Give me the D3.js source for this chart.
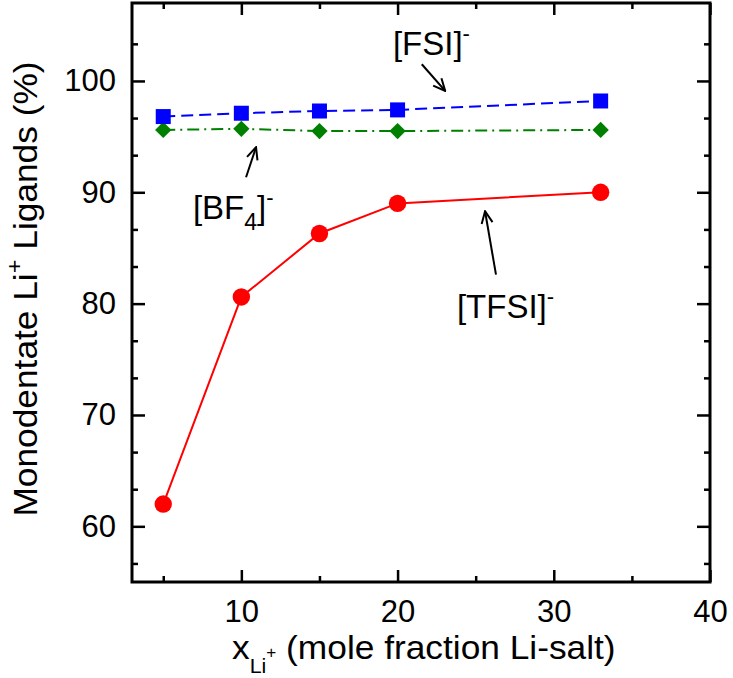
<!DOCTYPE html>
<html>
<head>
<meta charset="utf-8">
<script src="https://cdn.jsdelivr.net/npm/d3@7/dist/d3.min.js"></script>
<style>
  html, body { margin: 0; padding: 0; background: #fff; }
  svg { display: block; }
  text { font-family: "Liberation Sans", Arial, Helvetica, sans-serif; fill: #000; }
</style>
</head>
<body>
<svg id="chart" width="733" height="678"></svg>
<script>
// ---- data ----
const xValues = [5, 10, 15, 20, 33];
const tfsiValues = [62.0, 80.6, 86.3, 89.0, 90.0];
const fsiValues = [96.8, 97.1, 97.3, 97.4, 98.2];
const bf4Values = [95.6, 95.7, 95.5, 95.5, 95.6];

const xMajorTicks = [10, 20, 30, 40];
const xMinorTicks = [5, 15, 25, 35];
const yMajorTicks = [60, 70, 80, 90, 100];
const yMinorTicks = [56.667, 63.333, 66.667, 73.333, 76.667, 83.333, 86.667, 93.333, 96.667, 103.333];

// ---- layout ----
const W = 733, H = 678;
const L = 132, R = 710, T = 3, B = 582;

const svg = d3.select("#chart");
const x = d3.scaleLinear().domain([3, 40]).range([L, R]);
const y = d3.scaleLinear().domain([55, 107]).range([B, T]);

const tickW = 2.5;
function styleAxis(g, showLabels) {
  g.select(".domain").remove();
  g.selectAll(".tick line").attr("stroke", "#000").attr("stroke-width", tickW);
  g.selectAll(".tick text").style("font-size", "31px")
    .style("font-family", '"Liberation Sans", Arial, sans-serif').attr("fill", "#000");
  if (!showLabels) g.selectAll(".tick text").remove();
}

// bottom axis
svg.append("g").attr("transform", `translate(0,${B})`)
  .call(d3.axisBottom(x).tickValues(xMajorTicks).tickSize(-12).tickPadding(18).tickFormat(d3.format("d")))
  .call(g => styleAxis(g, true));
svg.append("g").attr("transform", `translate(0,${B})`)
  .call(d3.axisBottom(x).tickValues(xMinorTicks).tickSize(-6))
  .call(g => styleAxis(g, false));
// top axis
svg.append("g").attr("transform", `translate(0,${T})`)
  .call(d3.axisTop(x).tickValues(xMajorTicks).tickSize(-12))
  .call(g => styleAxis(g, false));
svg.append("g").attr("transform", `translate(0,${T})`)
  .call(d3.axisTop(x).tickValues(xMinorTicks).tickSize(-6))
  .call(g => styleAxis(g, false));
// left axis
svg.append("g").attr("transform", `translate(${L},0)`)
  .call(d3.axisLeft(y).tickValues(yMajorTicks).tickSize(-13).tickPadding(16).tickFormat(d3.format("d")))
  .call(g => styleAxis(g, true));
svg.append("g").attr("transform", `translate(${L},0)`)
  .call(d3.axisLeft(y).tickValues(yMinorTicks).tickSize(-6))
  .call(g => styleAxis(g, false));
// right axis
svg.append("g").attr("transform", `translate(${R},0)`)
  .call(d3.axisRight(y).tickValues(yMajorTicks).tickSize(-13))
  .call(g => styleAxis(g, false));
svg.append("g").attr("transform", `translate(${R},0)`)
  .call(d3.axisRight(y).tickValues(yMinorTicks).tickSize(-6))
  .call(g => styleAxis(g, false));

// frame
svg.append("rect").attr("x", L).attr("y", T).attr("width", R - L).attr("height", B - T)
  .attr("fill", "none").attr("stroke", "#000").attr("stroke-width", 3);

// ---- series ----
const line = d3.line().x(d => x(d[0])).y(d => y(d[1]));
const zip = vals => xValues.map((v, i) => [v, vals[i]]);

// BF4 (green, dash-dot, diamonds)
svg.append("path").datum(zip(bf4Values)).attr("d", line)
  .attr("fill", "none").attr("stroke", "#008000").attr("stroke-width", 2)
  .attr("stroke-dasharray", "12,5,2,5");
svg.append("g").selectAll("path").data(zip(bf4Values)).join("path")
  .attr("d", d3.symbol(d3.symbolDiamond2, 170))
  .attr("transform", d => `translate(${x(d[0])},${y(d[1])})`)
  .attr("fill", "#008000");

// FSI (blue, dashed, squares)
svg.append("path").datum(zip(fsiValues)).attr("d", line)
  .attr("fill", "none").attr("stroke", "#0000ff").attr("stroke-width", 2)
  .attr("stroke-dasharray", "12,6");
svg.append("g").selectAll("rect").data(zip(fsiValues)).join("rect")
  .attr("x", d => x(d[0]) - 7.5).attr("y", d => y(d[1]) - 7.5)
  .attr("width", 15).attr("height", 15).attr("fill", "#0000ff");

// TFSI (red, solid, circles)
svg.append("path").datum(zip(tfsiValues)).attr("d", line)
  .attr("fill", "none").attr("stroke", "#ff0000").attr("stroke-width", 2);
svg.append("g").selectAll("circle").data(zip(tfsiValues)).join("circle")
  .attr("cx", d => x(d[0])).attr("cy", d => y(d[1])).attr("r", 8.7)
  .attr("fill", "#ff0000");

// ---- annotations ----
const defs = svg.append("defs");
defs.append("marker").attr("id", "arr").attr("viewBox", "0 0 14 14")
  .attr("refX", 13).attr("refY", 7).attr("markerWidth", 14).attr("markerHeight", 14)
  .attr("markerUnits", "userSpaceOnUse").attr("orient", "auto")
  .append("path").attr("d", "M1,1.5 L13,7 L1,12.5").attr("fill", "none")
  .attr("stroke", "#000").attr("stroke-width", 2);

const arrows = [
  { from: [21.55, 101.5], to: [23.05, 99.1] },
  { from: [10.3, 91.35], to: [10.94, 94.05] },
  { from: [26.3, 82.6], to: [25.6, 88.3] }
];
svg.append("g").selectAll("line").data(arrows).join("line")
  .attr("x1", d => x(d.from[0])).attr("y1", d => y(d.from[1]))
  .attr("x2", d => x(d.to[0])).attr("y2", d => y(d.to[1]))
  .attr("stroke", "#000").attr("stroke-width", 2).attr("marker-end", "url(#arr)");

function label(xv, yv, parts) {
  const t = svg.append("text").attr("x", x(xv)).attr("y", y(yv)).style("font-size", "33px");
  parts.forEach(p => {
    const s = t.append("tspan").text(p.t);
    if (p.size) s.style("font-size", p.size + "px");
    if (p.dy) s.attr("dy", p.dy);
  });
  return t;
}
label(19.7, 102.3, [{ t: "[FSI]" }, { t: "-", size: 22, dy: -14 }]);
label(6.9, 87.6, [{ t: "[BF" }, { t: "4", size: 23, dy: 11 }, { t: "]", dy: -11 }, { t: "-", size: 22, dy: -14 }]);
label(23.8, 78.75, [{ t: "[TFSI]" }, { t: "-", size: 22, dy: -14 }]);

// ---- axis titles ----
const xt = svg.append("text").attr("transform", "translate(232,659) scale(1.07,1)")
  .style("font-size", "33px");
xt.append("tspan").text("x");
xt.append("tspan").text("Li").style("font-size", "20px").attr("dy", 14);
xt.append("tspan").text("+").style("font-size", "16px").attr("dy", -15);
xt.append("tspan").text(" (mole fraction Li-salt)").attr("dy", 1);

const yt = svg.append("text").attr("transform", "translate(37,289) rotate(-90) scale(1.07,1)")
  .attr("text-anchor", "middle").style("font-size", "33px");
yt.append("tspan").text("Monodentate Li");
yt.append("tspan").text("+").style("font-size", "22px").attr("dy", -15);
yt.append("tspan").text(" Ligands (%)").attr("dy", 15);
</script>
</body>
</html>
